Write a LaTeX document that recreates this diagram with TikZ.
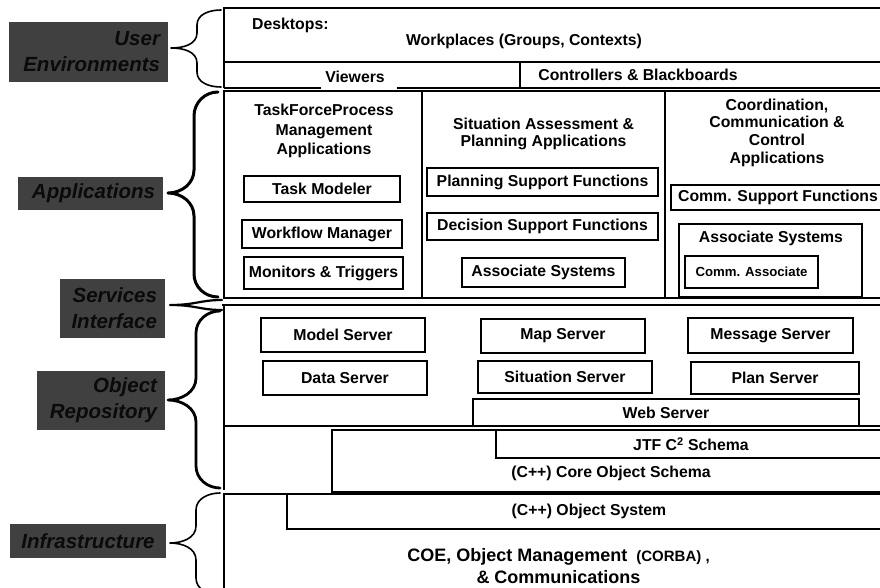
\documentclass[tikz,border=0pt]{standalone}
\usepackage{fontspec}
\setmainfont{Liberation Sans}
\definecolor{labelgray}{RGB}{64,64,64}
\definecolor{labelink}{RGB}{10,10,10}
\begin{document}
\begin{tikzpicture}[x=1pt,y=-1pt,
  every node/.style={font=\fontsize{15.8}{18}\selectfont\bfseries, inner sep=0pt},
  frame/.style={draw, line width=1.8pt},
  heavy/.style={draw, line width=2.6pt},
  ibox/.style={draw, line width=1.8pt},
  layer/.style={fill=labelgray, draw=none, text=labelink, align=right, inner xsep=8pt,
    font=\fontsize{20.5}{26}\selectfont\bfseries\itshape},
  brace/.style={draw, line cap=round, line join=round}]
\useasboundingbox (0,0) rectangle (880,588);
\clip (0,0) rectangle (880,588);

% ---------- layer labels on the left ----------
\node[layer, minimum width=159, minimum height=60, text width=143] (ue) at (88.5,52) {User\\Environments};
\node[layer, minimum width=145, minimum height=33, text width=129] (apl) at (90.5,193.5) {Applications};
\node[layer, minimum width=105, minimum height=59, text width=89] (si) at (112.5,308.5) {Services\\Interface};
\node[layer, minimum width=128, minimum height=59, text width=112] (orp) at (101,400.5) {Object\\Repository};
\node[layer, minimum width=156, minimum height=34, text width=140, align=center] (inf) at (88,541) {Infrastructure};

% ---------- braces ----------
\draw[brace, line width=1.6pt] (221,10) to[out=180,in=90] (197,25) -- (197,33)
  to[out=-90,in=0] (171,48) to[out=0,in=90] (197,63) -- (197,72) to[out=-90,in=180] (221,87);
\draw[brace, line width=3pt] (218,92) to[out=180,in=90] (194,116) -- (194,170)
  to[out=-90,in=0] (168,193) to[out=0,in=90] (194,216) -- (194,274) to[out=-90,in=180] (218,297);
\draw[brace, line width=2.2pt, fill=white] (222,300) .. controls (200,300) and (196,305) .. (170,305)
  .. controls (196,305) and (200,310) .. (222,310);
\draw[brace, line width=2.8pt] (220,311) to[out=180,in=90] (196,333) -- (196,378)
  to[out=-90,in=0] (168,400) to[out=0,in=90] (196,422) -- (196,466) to[out=-90,in=180] (220,488);
\draw[brace, line width=1.6pt] (220,493) to[out=180,in=90] (196,510) -- (196,526)
  to[out=-90,in=0] (170,543) to[out=0,in=90] (196,560) -- (196,578) to[out=-90,in=180] (220,595);

% ---------- user environments ----------
\draw[frame] (224,88) -- (224,8) -- (886,8);
\draw[frame] (224,62) -- (886,62);
\draw[frame] (520,62) -- (520,88);
\draw[frame] (224,88) -- (321,88);
\draw[frame] (397,88) -- (886,88);
\node[anchor=west] (desk) at (252,25) {Desktops:};
\node (wp) at (524,41) {Workplaces (Groups, Contexts)};
\node (view) at (355,77) {Viewers};
\node (ctrl) at (638,75) {Controllers \& Blackboards};

% ---------- applications ----------
\draw[heavy] (224,91) rectangle (422,298);
\draw[heavy] (422,91) rectangle (665,298);
\draw[heavy] (665,91) rectangle (886,298);

\node[align=center, font=\fontsize{15.8}{19.5}\selectfont\bfseries] (t1) at (324,131)
  {TaskForceProcess\\Management\\Applications};
\node[align=center, font=\fontsize{15.8}{16.5}\selectfont\bfseries] (t2) at (543.5,134)
  {Situation Assessment \&\\Planning Applications};
\node[align=center, font=\fontsize{15.8}{17.7}\selectfont\bfseries] (t3) at (777,132.5)
  {Coordination,\\Communication \&\\Control\\Applications};

\node[ibox, minimum width=156, minimum height=26] (tm) at (322,189) {Task Modeler};
\node[ibox, minimum width=160, minimum height=28] (wf) at (322,234) {Workflow Manager};
\node[ibox, minimum width=159, minimum height=32] (mt) at (323.5,273) {Monitors \& Triggers};

\node[ibox, minimum width=231, minimum height=28] (psf) at (542.5,182) {Planning Support Functions};
\node[ibox, minimum width=231, minimum height=27] (dsf) at (542.5,226.5) {Decision Support Functions};
\node[ibox, minimum width=163, minimum height=29] (as2) at (543.5,272.5) {Associate Systems};

\node[ibox, minimum width=214, minimum height=25] (csf) at (778,197.5) {Comm. Support Functions};
\node[ibox, minimum width=183, minimum height=73] (as3) at (770.5,260.5) {};
\node (as3t) at (771,238) {Associate Systems};
\node[ibox, minimum width=133, minimum height=32, font=\fontsize{13.2}{15}\selectfont\bfseries] (ca) at (751.5,272) {Comm. Associate};

% ---------- services interface / object repository ----------
\draw[heavy] (222,305) -- (886,305);
\draw[frame] (224,305) -- (224,490);
\draw[frame] (224,426) -- (886,426);

\node[ibox, minimum width=164, minimum height=34] (mods) at (343,335) {Model Server};
\node[ibox, minimum width=164, minimum height=34] (maps) at (563,336) {Map Server};
\node[ibox, minimum width=165, minimum height=35] (msgs) at (770.5,335.5) {Message Server};
\node[ibox, minimum width=164, minimum height=34] (dats) at (345,378) {Data Server};
\node[ibox, minimum width=174, minimum height=32] (sits) at (565,377) {Situation Server};
\node[ibox, minimum width=168, minimum height=32] (plns) at (775,378) {Plan Server};
\node[ibox, minimum width=386, minimum height=27] (webs) at (666,412.5) {Web Server};

\node[frame, minimum width=558, minimum height=62] (core) at (611,461) {};
\node (coret) at (611,473) {(C++) Core Object Schema};
\node[frame, minimum width=390, minimum height=28] (jtf) at (691,444) {JTF C\textsuperscript{2} Schema};

% ---------- infrastructure ----------
\node[frame, minimum width=662, minimum height=106] (infra) at (555,547) {};
\node[frame, minimum width=604, minimum height=35] (objs) at (589,511.5) {(C++) Object System};
\node[align=center, font=\fontsize{18}{22}\selectfont\bfseries] (coe) at (558.5,566)
  {COE, Object Management\hspace{9pt}{\fontsize{15}{18}\selectfont(CORBA) ,}\\\& Communications};
\end{tikzpicture}
\end{document}
